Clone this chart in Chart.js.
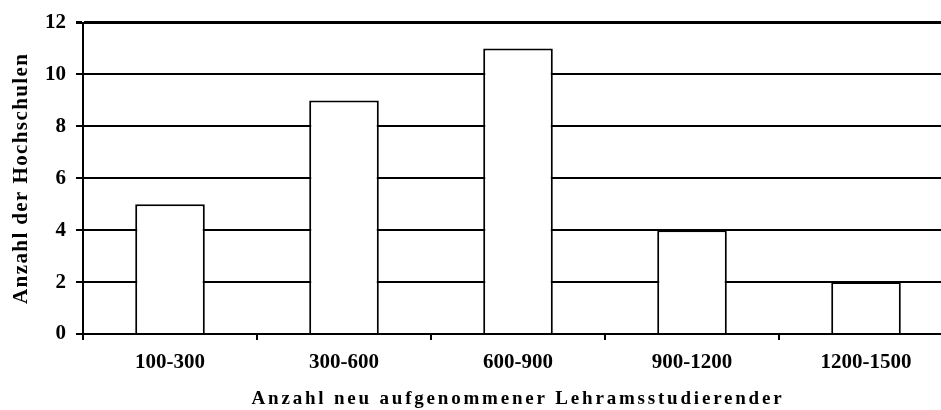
<!DOCTYPE html>
<html>
<head>
<meta charset="utf-8">
<script src="https://cdn.jsdelivr.net/npm/chart.js@4.4.0/dist/chart.umd.min.js"></script>
<style>
    html, body { margin: 0; padding: 0; background: #ffffff; overflow: hidden; }
    #wrap { width: 960px; height: 410px; position: relative; }
</style>
</head>
<body>
<div id="wrap"><canvas id="chart"></canvas></div>
<script>
// Histogram data
const categories = ['100-300', '300-600', '600-900', '900-1200', '1200-1500'];
const hochschulen = [5, 9, 11, 4, 2];
const yTicks = [0, 2, 4, 6, 8, 10, 12];

const serif = 'Liberation Serif, Times New Roman, serif';

// Spread the letters of the axis titles a bit, like the original
const titleSpacing = { x: '2.8px', y: '1.4px' };
const spacedTitle = {
    id: 'spacedTitle',
    beforeDraw(chart) {
        Object.keys(titleSpacing).forEach(id => {
            const sc = chart.scales[id];
            if (!sc || sc._spaced) return;
            const orig = sc.drawTitle;
            sc.drawTitle = function() {
                const c = this.ctx;
                c.save();
                c.letterSpacing = titleSpacing[id];
                orig.call(this);
                c.restore();
            };
            sc._spaced = true;
        });
    }
};

const ctx = document.getElementById('chart').getContext('2d');
new Chart(ctx, {
    type: 'bar',
    data: {
        labels: categories,
        datasets: [{
            label: 'Anzahl der Hochschulen',
            data: hochschulen,
            backgroundColor: '#ffffff',
            borderColor: '#000000',
            borderWidth: 2,
            borderSkipped: 'start',
            categoryPercentage: 1,
            barPercentage: 0.4
        }]
    },
    options: {
        responsive: true,
        maintainAspectRatio: false,
        animation: false,
        layout: {
            padding: { top: 22, right: 7, left: 0, bottom: 0 }
        },
        plugins: {
            legend: { display: false },
            tooltip: { enabled: false }
        },
        scales: {
            x: {
                grid: {
                    display: true,
                    drawOnChartArea: false,
                    drawTicks: true,
                    tickLength: 6,
                    color: '#000000',
                    lineWidth: 2,
                    offset: true
                },
                border: { display: true, color: '#000000', width: 2 },
                ticks: {
                    color: '#000000',
                    padding: 10,
                    font: { family: serif, size: 21, weight: 'bold' }
                },
                title: {
                    display: true,
                    text: 'Anzahl neu aufgenommener Lehramsstudierender',
                    color: '#000000',
                    padding: { top: 0, bottom: 0 },
                    font: { family: serif, size: 19, weight: 'bold' }
                },
                afterFit(scale) {
                    scale.height = 76;
                }
            },
            y: {
                min: 0,
                max: 12,
                afterBuildTicks(scale) {
                    scale.ticks = yTicks.map(v => ({ value: v }));
                },
                grid: {
                    color: '#000000',
                    lineWidth: c => (c.tick && c.tick.value === 12 ? 3 : 2),
                    tickLength: 7
                },
                border: { display: true, color: '#000000', width: 2 },
                ticks: {
                    color: '#000000',
                    padding: 10,
                    font: { family: serif, size: 21, weight: 'bold' }
                },
                title: {
                    display: true,
                    text: 'Anzahl der Hochschulen',
                    color: '#000000',
                    padding: { top: 9, bottom: 0 },
                    font: { family: serif, size: 21, weight: 'bold' }
                },
                afterFit(scale) {
                    scale.width = 83;
                }
            }
        }
    },
    plugins: [spacedTitle]
});
</script>
</body>
</html>
